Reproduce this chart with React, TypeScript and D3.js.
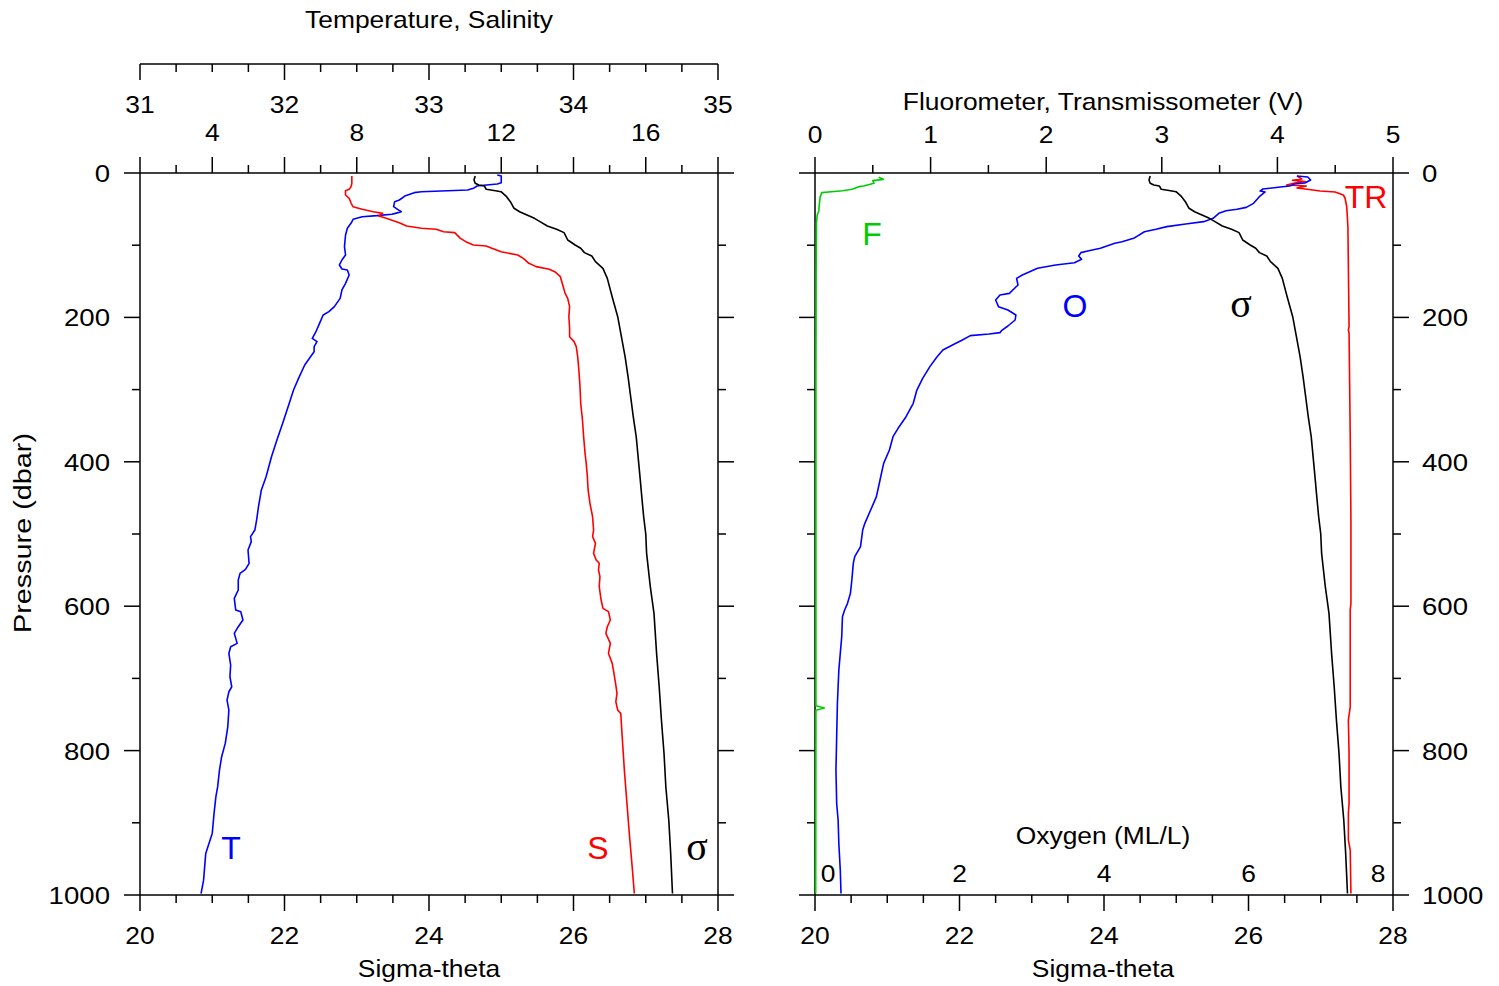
import React from 'react';
import * as d3 from 'd3';

// profiles: [value, pressure (dbar)]
const temperature = [
  [11.89, 2.8], [12.0, 4.2], [12.0, 13.4], [11.89, 15.2], [11.59, 16.6], [11.33, 18], [11.23, 21.2], [11.07, 23.5],
  [9.79, 25.9], [9.59, 27.2], [9.33, 31.9], [9.18, 37.4], [9.05, 39.7], [9.02, 46.6], [9.13, 50.3], [9.23, 53.6],
  [9.07, 55.9], [8.97, 57.2], [8.56, 59.1], [8.15, 60.5], [7.9, 64.2], [7.84, 69.7], [7.74, 76.6], [7.69, 85.9],
  [7.66, 102], [7.69, 113.6], [7.59, 120.5], [7.52, 127.4], [7.59, 133], [7.74, 134.3], [7.79, 141.3], [7.69, 152.8],
  [7.59, 162], [7.54, 173.6], [7.38, 185.1], [7.23, 192], [7.07, 196.7], [6.97, 208.2], [6.87, 219.8], [6.77, 229],
  [6.9, 233.6], [6.82, 240.5], [6.82, 247.5], [6.72, 254.4], [6.56, 265.9], [6.41, 282.1], [6.25, 300.6], [6.1, 323.6],
  [5.95, 346.7], [5.79, 369.8], [5.64, 392.9], [5.49, 420.6], [5.36, 439], [5.28, 462], [5.23, 480], [5.18, 494.5],
  [5.06, 503.7], [5.08, 510.6], [4.99, 522.2], [5.02, 540.6], [4.92, 549], [4.77, 554.5], [4.72, 563.7], [4.72, 577.6],
  [4.61, 589.1], [4.65, 605.3], [4.79, 607.6], [4.85, 619.1], [4.72, 628.4], [4.61, 637.6], [4.69, 651.5], [4.51, 656.1],
  [4.46, 665.4], [4.51, 681.5], [4.49, 697.7], [4.54, 711.6], [4.46, 718.5], [4.41, 730], [4.46, 743.9], [4.43, 767],
  [4.36, 790], [4.26, 808.5], [4.2, 827], [4.15, 850], [4.1, 864], [4.05, 887], [4.0, 914.7], [3.88, 933.2],
  [3.82, 942.4], [3.76, 979.4], [3.69, 998]
];

const salinity = [
  [32.466, 4.2], [32.466, 14.3], [32.461, 18.9], [32.448, 22.6], [32.422, 24.5], [32.422, 30.5], [32.448, 35.1],
  [32.461, 42], [32.474, 46.6], [32.538, 50.3], [32.615, 53.6], [32.679, 55.9], [32.653, 59.6], [32.704, 62.8],
  [32.794, 68.8], [32.845, 73.4], [32.948, 76.6], [33.05, 78], [33.101, 81.3], [33.178, 82.6], [33.217, 90.5],
  [33.255, 95.1], [33.307, 99.7], [33.396, 101.1], [33.435, 104.3], [33.499, 109], [33.614, 113.6], [33.653, 118.2],
  [33.691, 125.1], [33.742, 129.7], [33.832, 133.4], [33.87, 136.7], [33.909, 143.6], [33.922, 152.8], [33.942, 166.7],
  [33.96, 173.6], [33.973, 185.1], [33.968, 199], [33.973, 215.1], [33.973, 226.7], [34.004, 233.6], [34.019, 240.5],
  [34.029, 254.4], [34.037, 272.9], [34.045, 295.9], [34.05, 319], [34.062, 342.1], [34.07, 365.2], [34.08, 388.3],
  [34.088, 402.1], [34.096, 420.6], [34.101, 439], [34.114, 457.5], [34.132, 476], [34.139, 494.5], [34.132, 503.7],
  [34.152, 513], [34.139, 526.8], [34.157, 536], [34.178, 540.6], [34.173, 549.9], [34.183, 559.1], [34.178, 573],
  [34.191, 591.4], [34.204, 603], [34.242, 607.6], [34.255, 619.1], [34.234, 628.4], [34.224, 637.6], [34.255, 651.5],
  [34.242, 665.4], [34.268, 679.2], [34.28, 693.1], [34.293, 709.2], [34.301, 720.8], [34.293, 732.3], [34.306, 743.9],
  [34.327, 748.5], [34.337, 780.8], [34.352, 827], [34.37, 873.2], [34.388, 919.3], [34.408, 965.5], [34.421, 998]
];

const sigmaTheta = [
  [24.639, 4.2], [24.623, 9.7], [24.639, 14.3], [24.69, 16.6], [24.767, 18], [24.792, 22.6], [24.921, 24.5],
  [24.997, 25.9], [25.074, 32.8], [25.126, 39.7], [25.177, 48.9], [25.254, 53.6], [25.356, 58.2], [25.459, 62.8],
  [25.536, 67.4], [25.638, 73.4], [25.766, 78], [25.869, 82.6], [25.92, 92.8], [26.023, 99.7], [26.1, 104.3],
  [26.151, 110.3], [26.253, 115], [26.304, 122.8], [26.407, 132], [26.468, 145.9], [26.535, 171.3], [26.612, 199],
  [26.663, 226.7], [26.714, 254.4], [26.755, 282.1], [26.791, 309.8], [26.827, 337.5], [26.868, 365.2], [26.894, 392.9],
  [26.92, 420.6], [26.945, 448.3], [26.971, 476], [27.0, 500], [27.012, 526.8], [27.063, 573], [27.114, 610],
  [27.15, 665.4], [27.186, 711.6], [27.217, 757.8], [27.253, 804], [27.278, 850], [27.319, 896.4], [27.345, 942.4],
  [27.37, 998]
];

const oxygen = [
  [6.67, 4.2], [6.82, 5.5], [6.86, 9.7], [6.78, 13.9], [6.64, 15.2], [6.57, 18], [6.44, 19.4], [6.2, 22.2],
  [6.16, 25], [6.23, 26.3], [6.15, 32.8], [6.07, 42], [5.97, 47.6], [5.84, 50.3], [5.69, 52.2], [5.59, 55.9],
  [5.51, 62.8], [5.38, 67.4], [5.13, 70.6], [4.87, 74.3], [4.72, 78], [4.56, 81.3], [4.41, 90.5], [4.25, 95.1],
  [4.15, 97.4], [3.95, 104.3], [3.79, 107.6], [3.68, 110.3], [3.65, 115], [3.69, 119.6], [3.59, 124.2], [3.33, 127.4],
  [3.08, 132], [2.87, 141.3], [2.79, 145.9], [2.81, 155.1], [2.69, 166.7], [2.56, 169], [2.5, 175.9], [2.54, 185.1],
  [2.67, 189.8], [2.78, 196.7], [2.77, 203.6], [2.67, 211.9], [2.59, 217.5], [2.56, 221.1], [2.41, 223], [2.15, 225.3],
  [2.04, 231.3], [1.95, 235.9], [1.77, 245.2], [1.69, 254.4], [1.59, 268.2], [1.49, 284.4], [1.41, 300.6], [1.36, 319],
  [1.26, 337.5], [1.15, 353.6], [1.08, 365.2], [1.03, 383.7], [0.95, 402.1], [0.9, 425.2], [0.85, 448.3], [0.77, 466.8],
  [0.69, 485.2], [0.66, 494.5], [0.63, 517.5], [0.55, 531.4], [0.53, 540.6], [0.51, 563.7], [0.49, 582.2], [0.45, 596],
  [0.41, 605.3], [0.38, 614.5], [0.37, 642.2], [0.35, 665.4], [0.33, 688.5], [0.32, 711.6], [0.31, 734.7], [0.3, 780.8],
  [0.29, 827], [0.3, 873.2], [0.32, 896.4], [0.33, 928.7], [0.35, 965.7], [0.36, 998]
];

const fluorometer = [
  [0.55, 6], [0.59, 8.8], [0.5, 10.6], [0.51, 14.3], [0.42, 18], [0.38, 18.9], [0.32, 22.6], [0.24, 24.5],
  [0.14, 25.9], [0.06, 27.2], [0.045, 32.8], [0.038, 42], [0.032, 53.6], [0.019, 58.2], [0.013, 69.7], [0.01, 134.3],
  [0.008, 272.9], [0.008, 738], [0.08, 741], [0.008, 744], [0.006, 998]
];

const transmissometer = [
  [4.17, 4.2], [4.21, 8.3], [4.13, 10], [4.24, 12], [4.15, 13.9], [4.08, 16.6], [4.25, 18], [4.17, 20.8],
  [4.24, 22.2], [4.37, 24.9], [4.5, 26.3], [4.57, 30.5], [4.585, 34.6], [4.6, 47.1], [4.61, 74.8], [4.62, 212.8],
  [4.614, 217.5], [4.62, 222], [4.63, 365], [4.636, 480.6], [4.636, 596], [4.63, 605.3], [4.63, 739.3], [4.614, 757.8],
  [4.62, 804], [4.62, 873.2], [4.614, 887], [4.614, 924], [4.63, 937.9], [4.636, 998]
];

const salinityTicks = [31, 32, 33, 34, 35];
const temperatureTicks = [4, 8, 12, 16];
const sigmaTicks = [20, 22, 24, 26, 28];
const pressureTicks = [0, 200, 400, 600, 800, 1000];
const voltTicks = [0, 1, 2, 3, 4, 5];
const oxygenTicks = [0, 2, 4, 6, 8];

const FONT = 'Liberation Sans, Arial, Helvetica, sans-serif';
const SERIF = 'Liberation Serif, DejaVu Serif, Times New Roman, serif';

const L = { x0: 140, x1: 718 };
const R = { x0: 815, x1: 1393 };
const pY = d3.scaleLinear().domain([0, 1000]).range([173, 895]);

function Txt({ x, y, anchor = 'middle', size = 24, sx = 1.1, fill = '#000', family = FONT, rot = 0, children }: any) {
  return (
    <text transform={`translate(${x},${y}) rotate(${rot}) scale(${sx},1)`} textAnchor={anchor}
      fontSize={size} fontFamily={family} fill={fill}>{children}</text>
  );
}

function Frame({ x0, x1, topScale, topMajor, topMinor, sig }: any) {
  const els: any[] = [];
  const s = { stroke: '#000', strokeWidth: 1.5 };
  els.push(<line key="l" x1={x0} x2={x0} y1={pY(0)} y2={pY(1000)} {...s} />);
  els.push(<line key="r" x1={x1} x2={x1} y1={pY(0)} y2={pY(1000)} {...s} />);
  els.push(<line key="t" x1={x0} x2={x1} y1={pY(0)} y2={pY(0)} {...s} />);
  els.push(<line key="b" x1={x0} x2={x1} y1={pY(1000)} y2={pY(1000)} {...s} />);
  pressureTicks.forEach(p => {
    els.push(<line key={'pl' + p} x1={x0 - 16} x2={x0} y1={pY(p)} y2={pY(p)} {...s} />);
    els.push(<line key={'pr' + p} x1={x1} x2={x1 + 16} y1={pY(p)} y2={pY(p)} {...s} />);
  });
  d3.range(100, 1000, 200).forEach(p => {
    els.push(<line key={'ml' + p} x1={x0 - 8} x2={x0} y1={pY(p)} y2={pY(p)} {...s} />);
    els.push(<line key={'mr' + p} x1={x1} x2={x1 + 8} y1={pY(p)} y2={pY(p)} {...s} />);
  });
  topMajor.forEach((v: number) => els.push(<line key={'tM' + v} x1={topScale(v)} x2={topScale(v)} y1={pY(0) - 16} y2={pY(0)} {...s} />));
  topMinor.forEach((v: number) => els.push(<line key={'tm' + v} x1={topScale(v)} x2={topScale(v)} y1={pY(0) - 8} y2={pY(0)} {...s} />));
  sigmaTicks.forEach(v => els.push(<line key={'bM' + v} x1={sig(v)} x2={sig(v)} y1={pY(1000)} y2={pY(1000) + 16} {...s} />));
  d3.range(20.5, 28, 0.5).filter(v => !sigmaTicks.includes(v)).forEach(v =>
    els.push(<line key={'bm' + v} x1={sig(v)} x2={sig(v)} y1={pY(1000)} y2={pY(1000) + 8} {...s} />));
  return <g>{els}</g>;
}

export default function App() {
  const sigL = d3.scaleLinear().domain([20, 28]).range([L.x0, L.x1]);
  const tempX = d3.scaleLinear().domain([2, 18]).range([L.x0, L.x1]);
  const salX = d3.scaleLinear().domain([31, 35]).range([L.x0, L.x1]);
  const sigR = d3.scaleLinear().domain([20, 28]).range([R.x0, R.x1]);
  const voltX = d3.scaleLinear().domain([0, 5]).range([R.x0, R.x1]);
  const oxyX = d3.scaleLinear().domain([0, 8]).range([R.x0, R.x1]);

  const path = (sx: any, data: number[][]) =>
    d3.line<number[]>().x(d => sx(d[0])).y(d => pY(d[1]))(data) || '';

  const curve = { fill: 'none', strokeWidth: 1.6, strokeLinejoin: 'round' as const };
  const ax = { stroke: '#000', strokeWidth: 1.5 };

  return (
    <svg width={1499} height={986} style={{ position: 'absolute', left: 0, top: 0, background: '#fff' }}>
      {/* left panel: temperature / salinity */}
      <Txt x={429} y={28}>Temperature, Salinity</Txt>
      <line x1={L.x0} x2={L.x1} y1={64} y2={64} {...ax} />
      {d3.range(31, 35.01, 0.25).map(v => (
        <line key={'st' + v} x1={salX(v)} x2={salX(v)} y1={64}
          y2={salinityTicks.includes(v) ? 80 : 72} {...ax} />
      ))}
      {salinityTicks.map(v => <Txt key={'sl' + v} x={salX(v)} y={113}>{v}</Txt>)}
      {temperatureTicks.map(v => <Txt key={'tl' + v} x={tempX(v)} y={141}>{v}</Txt>)}

      <Frame x0={L.x0} x1={L.x1} topScale={sigL} topMajor={d3.range(20, 28.01, 1)}
        topMinor={d3.range(20.5, 28, 1)} sig={sigL} />
      {pressureTicks.map(p => <Txt key={'yl' + p} x={110} y={pY(p) + 9} anchor="end" sx={1.15}>{p}</Txt>)}
      {sigmaTicks.map(v => <Txt key={'xl' + v} x={sigL(v)} y={944}>{v}</Txt>)}
      <Txt x={429} y={977}>Sigma-theta</Txt>
      <Txt x={31} y={533} rot={-90} sx={1.2}>Pressure (dbar)</Txt>

      <path d={path(tempX, temperature)} stroke="#0000ff" {...curve} />
      <path d={path(salX, salinity)} stroke="#ff0000" {...curve} />
      <path d={path(sigL, sigmaTheta)} stroke="#000000" {...curve} />
      <Txt x={231} y={859} size={32} sx={1} fill="#0000ff">T</Txt>
      <Txt x={598} y={859} size={32} sx={1} fill="#ff0000">S</Txt>
      <Txt x={697} y={860} size={40} sx={1} family={SERIF}>σ</Txt>

      {/* right panel: fluorometer / transmissometer / oxygen */}
      <Txt x={1103} y={110}>Fluorometer, Transmissometer (V)</Txt>
      {voltTicks.map(v => <Txt key={'vl' + v} x={voltX(v)} y={143}>{v}</Txt>)}
      <Frame x0={R.x0} x1={R.x1} topScale={voltX} topMajor={voltTicks}
        topMinor={d3.range(0.5, 5, 1)} sig={sigR} />
      {pressureTicks.map(p => <Txt key={'yr' + p} x={1422} y={pY(p) + 9} anchor="start" sx={1.15}>{p}</Txt>)}
      {sigmaTicks.map(v => <Txt key={'xr' + v} x={sigR(v)} y={944}>{v}</Txt>)}
      <Txt x={1103} y={977}>Sigma-theta</Txt>
      <Txt x={1103} y={844}>Oxygen (ML/L)</Txt>
      {oxygenTicks.map((v, i) => (
        <Txt key={'ol' + v} x={oxyX(v) + (i === 0 ? 13 : i === oxygenTicks.length - 1 ? -15 : 0)} y={882}>{v}</Txt>
      ))}

      <path d={path(voltX, fluorometer)} stroke="#00cc00" {...curve} />
      <path d={path(voltX, transmissometer)} stroke="#ff0000" {...curve} />
      <path d={path(oxyX, oxygen)} stroke="#0000ff" {...curve} />
      <path d={path(sigR, sigmaTheta)} stroke="#000000" {...curve} />
      <Txt x={872} y={245} size={32} sx={1} fill="#00cc00">F</Txt>
      <Txt x={1075} y={317} size={32} sx={1} fill="#0000ff">O</Txt>
      <Txt x={1241} y={317} size={40} sx={1} family={SERIF}>σ</Txt>
      <Txt x={1366} y={208} size={32} sx={1} fill="#ff0000">TR</Txt>
    </svg>
  );
}
